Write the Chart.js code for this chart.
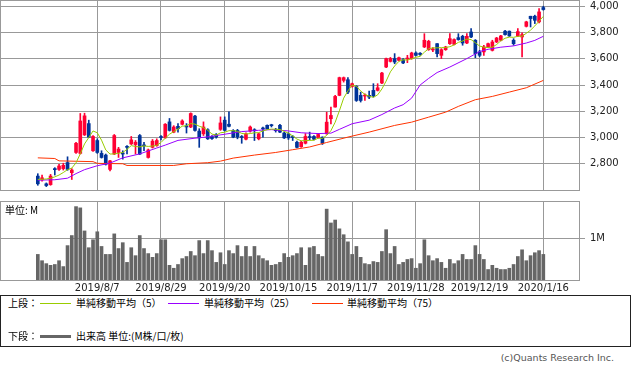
<!DOCTYPE html>
<html>
<head>
<meta charset="utf-8">
<script src="https://cdn.jsdelivr.net/npm/chart.js@4.4.1/dist/chart.umd.min.js"></script>
<style>
  body { margin: 0; background: #fff; }
  #wrap { position: relative; width: 633px; height: 370px; overflow: hidden; }
  canvas { position: absolute; left: 0; }
  #price { top: 0; }
  #volume { top: 195px; }
  .txt { position: absolute; font-size: 10px; line-height: 12px; white-space: nowrap; color: #000;
         font-family: "Noto Sans CJK JP", "DejaVu Sans", sans-serif; }
  #legend { position: absolute; left: 0; top: 295px; width: 629px; height: 50px; border: 1px solid #222; }
  .sw { position: absolute; width: 31px; height: 1px; }
  #copy { position: absolute; right: 19px; top: 352px; font: 9.5px "DejaVu Sans", sans-serif; color: #555; }
</style>
</head>
<body>
<div id="wrap">
  <canvas id="price" width="633" height="191"></canvas>
  <canvas id="volume" width="633" height="100"></canvas>
  <div class="txt" style="left:5px; top:204px;">単位: M</div>
  <div id="legend">
    <div class="txt" style="left:7px; top:1px;">上段：</div>
    <div class="sw" style="left:39px; top:7px; background:#99cc00;"></div>
    <div class="txt" style="left:75px; top:1px;">単純移動平均（5）</div>
    <div class="sw" style="left:167px; top:7px; background:#9900ff;"></div>
    <div class="txt" style="left:203px; top:1px;">単純移動平均（25）</div>
    <div class="sw" style="left:311px; top:7px; background:#ff3300;"></div>
    <div class="txt" style="left:346px; top:1px;">単純移動平均（75）</div>
    <div class="txt" style="left:7px; top:34px;">下段：</div>
    <div class="sw" style="left:39px; top:39px; height:3px; background:#666;"></div>
    <div class="txt" style="left:75px; top:34px;">出来高 単位:(M株/口/枚)</div>
  </div>
  <div id="copy">(c)Quants Research Inc.</div>
</div>
<script>
const dates = [
  '2019/7/18','2019/7/19','2019/7/22','2019/7/23','2019/7/24','2019/7/25','2019/7/26','2019/7/29','2019/7/30','2019/7/31',
  '2019/8/1','2019/8/2','2019/8/5','2019/8/6','2019/8/7','2019/8/8','2019/8/9','2019/8/13','2019/8/14','2019/8/15',
  '2019/8/16','2019/8/19','2019/8/20','2019/8/21','2019/8/22','2019/8/23','2019/8/26','2019/8/27','2019/8/28','2019/8/29',
  '2019/8/30','2019/9/2','2019/9/3','2019/9/4','2019/9/5','2019/9/6','2019/9/9','2019/9/10','2019/9/11','2019/9/12',
  '2019/9/13','2019/9/17','2019/9/18','2019/9/19','2019/9/20','2019/9/24','2019/9/25','2019/9/26','2019/9/27','2019/9/30',
  '2019/10/1','2019/10/2','2019/10/3','2019/10/4','2019/10/7','2019/10/8','2019/10/9','2019/10/10','2019/10/11','2019/10/15',
  '2019/10/16','2019/10/17','2019/10/18','2019/10/21','2019/10/23','2019/10/24','2019/10/25','2019/10/28','2019/10/29','2019/10/30',
  '2019/10/31','2019/11/1','2019/11/5','2019/11/6','2019/11/7','2019/11/8','2019/11/11','2019/11/12','2019/11/13','2019/11/14',
  '2019/11/15','2019/11/18','2019/11/19','2019/11/20','2019/11/21','2019/11/22','2019/11/25','2019/11/26','2019/11/27','2019/11/28',
  '2019/11/29','2019/12/2','2019/12/3','2019/12/4','2019/12/5','2019/12/6','2019/12/9','2019/12/10','2019/12/11','2019/12/12',
  '2019/12/13','2019/12/16','2019/12/17','2019/12/18','2019/12/19','2019/12/20','2019/12/23','2019/12/24','2019/12/25','2019/12/26',
  '2019/12/27','2019/12/30','2020/1/6','2020/1/7','2020/1/8','2020/1/9','2020/1/10','2020/1/14','2020/1/15','2020/1/16'
];
const tickDates = ['2019/8/7','2019/8/29','2019/9/20','2019/10/15','2019/11/7','2019/11/28','2019/12/19','2020/1/16'];

const open = [2706,2677,2647,2641,2763,2757,2763,2809,2732,2886,
  2879,3020,3106,2899,2977,2879,2866,2757,2874,2886,
  2882,2930,2951,2946,3015,2941,2848,2925,2938,3005,
  2997,3119,3041,3085,3101,3088,3080,3163,3049,3028,
  3059,3008,3023,3062,3132,3101,3054,3054,3008,2987,
  3049,3059,2990,3070,3093,3096,3057,3093,3034,3028,
  3005,2964,2930,2956,3005,3008,3000,3003,3028,3143,
  3232,3321,3435,3440,3389,3389,3321,3316,3321,3359,
  3359,3415,3537,3580,3601,3588,3593,3598,3601,3644,
  3642,3690,3669,3667,3715,3626,3669,3715,3710,3761,
  3771,3720,3804,3741,3652,3652,3690,3664,3728,3741,
  3810,3810,3741,3774,3766,3847,3924,3924,3881,3990];
const high = [2724,2714,2654,2719,2770,2796,2804,2853,2763,2964,
  3183,3185,3132,3015,2990,2899,2874,2827,3023,2925,
  2899,2938,3008,2977,3023,2964,2912,2985,2990,3015,
  3106,3145,3090,3106,3135,3106,3188,3168,3067,3119,
  3067,3015,3030,3157,3157,3196,3060,3062,3015,3036,
  3088,3067,3034,3080,3096,3101,3070,3101,3041,3036,
  3015,2972,2972,3030,3041,3015,3030,3005,3193,3232,
  3321,3460,3461,3456,3415,3395,3346,3333,3354,3410,
  3410,3496,3606,3610,3639,3613,3601,3626,3650,3652,
  3647,3791,3741,3685,3715,3677,3695,3791,3751,3791,
  3779,3791,3830,3746,3664,3703,3720,3741,3763,3779,
  3817,3812,3753,3830,3797,3886,3924,3932,3982,4000];
const low = [2636,2667,2626,2636,2714,2750,2752,2750,2680,2879,
  2874,3015,3000,2894,2879,2843,2790,2745,2870,2848,
  2835,2874,2946,2874,2870,2899,2843,2920,2933,2982,
  2995,3049,3036,3041,3096,3034,3075,3049,2925,3015,
  2985,2985,2995,3054,3049,3080,2998,2990,2956,2982,
  3041,2977,2982,3003,3062,3080,3041,3036,2992,2985,
  2977,2920,2925,2951,2982,2982,2995,2947,3025,3104,
  3232,3318,3422,3333,3384,3275,3270,3282,3295,3308,
  3354,3410,3532,3575,3562,3583,3562,3570,3596,3621,
  3626,3685,3664,3654,3613,3601,3664,3710,3705,3741,
  3703,3715,3761,3608,3616,3626,3685,3659,3723,3736,
  3779,3769,3703,3769,3613,3842,3842,3868,3873,3970];
const close = [2647,2693,2634,2706,2755,2783,2788,2757,2752,2956,
  3126,3165,3003,3008,2886,2848,2796,2822,3015,2912,
  2874,2925,2982,2964,2874,2936,2905,2972,2977,3000,
  3101,3054,3080,3067,3126,3080,3183,3054,2997,3080,
  2990,2992,3003,3111,3054,3085,3003,3003,3000,3028,
  3080,3052,3028,3065,3067,3090,3052,3041,2997,2997,
  3000,2925,2964,3008,3000,2987,3023,2957,3117,3168,
  3313,3456,3456,3346,3410,3282,3282,3323,3308,3316,
  3379,3491,3601,3601,3575,3608,3568,3603,3644,3626,
  3632,3741,3733,3672,3639,3669,3690,3753,3746,3746,
  3720,3771,3766,3639,3626,3690,3715,3728,3758,3774,
  3784,3774,3715,3807,3784,3881,3906,3893,3957,3975];

// volume in millions
const volume = [0.61,0.46,0.39,0.35,0.37,0.46,0.32,0.82,1.06,1.75,
  1.72,1.17,0.77,0.96,1.15,0.80,0.61,0.61,1.10,0.75,
  0.89,0.42,0.77,0.58,1.06,0.75,0.63,0.54,0.63,0.96,
  0.96,0.35,0.28,0.37,0.51,0.56,0.68,0.58,0.94,0.63,
  0.94,0.70,0.42,0.65,0.37,0.70,0.63,0.82,0.56,0.80,
  0.56,0.80,0.58,0.51,0.46,0.35,0.37,0.42,0.63,0.54,
  0.58,0.63,0.77,0.35,0.77,0.80,0.61,0.56,1.69,1.36,
  1.43,1.22,1.08,0.91,0.61,0.80,0.54,0.39,0.37,0.44,
  0.42,0.68,1.20,0.63,0.80,0.37,0.42,0.49,0.51,0.28,
  0.39,0.96,0.58,0.46,0.51,0.42,0.28,0.49,0.39,0.46,
  0.61,0.49,0.49,0.82,0.61,0.49,0.25,0.35,0.28,0.25,
  0.25,0.28,0.37,0.56,0.72,0.46,0.58,0.65,0.70,0.61];

const ma5 = [2681,2682,2684,2690,2700,2714,2733,2755,2767,2807,
  2876,2951,3000,3050,3036,2980,2905,2874,2875,2880,
  2886,2910,2938,2932,2928,2936,2932,2935,2940,2962,
  2995,3025,3045,3065,3086,3090,3106,3102,3086,3075,
  3055,3026,3018,3036,3040,3052,3052,3047,3031,3027,
  3030,3036,3037,3050,3060,3064,3063,3061,3047,3033,
  3012,2988,2975,2976,2978,2979,2995,2993,3016,3052,
  3116,3204,3300,3355,3400,3390,3355,3328,3315,3306,
  3325,3370,3430,3500,3545,3580,3592,3590,3600,3611,
  3618,3650,3676,3683,3683,3685,3685,3692,3705,3725,
  3735,3750,3746,3722,3697,3688,3685,3688,3708,3737,
  3756,3765,3763,3771,3772,3794,3818,3850,3886,3923];
const ma25Idx = [0,4,7,9,11,14,17,20,24,28,30,33,37,40,44,48,52,55,59,62,66,69,71,74,78,81,84,86,88,90,92,94,97,101,104,106,109,112,115,117,119];
const ma25 = [2675,2678,2690,2725,2755,2785,2805,2845,2875,2920,2942,2978,2995,3005,3025,3045,3055,3060,3050,3036,3030,3033,3062,3105,3132,3175,3225,3250,3300,3400,3450,3495,3537,3601,3655,3672,3688,3698,3720,3740,3771];
const ma75Idx = [0,4,5,13,14,20,21,32,35,40,43,46,51,56,60,64,68,73,78,84,88,92,96,99,103,107,111,115,119];
const ma75 = [2845,2840,2822,2816,2803,2800,2787,2787,2800,2808,2820,2843,2866,2886,2907,2928,2962,3003,3041,3092,3117,3155,3193,3237,3288,3313,3346,3379,3435];

const priceTicks = [2800, 3000, 3200, 3400, 3600, 3800, 4000];
const volumeTicks = [1];

const RED = '#ff0033', BLUE = '#003399';
const GRID = '#999';
const FONT = { family: '"DejaVu Sans", sans-serif', size: 10 };
const X_MIN = -8.9, X_MAX = 127.4;

const candleColors = close.map((c, i) => c >= open[i] ? RED : BLUE);

// draws the grey box around each plot area
const frame = {
  id: 'frame',
  afterDraw(chart) {
    const a = chart.chartArea, g = chart.ctx;
    g.save();
    g.strokeStyle = GRID;
    g.lineWidth = 1;
    g.strokeRect(a.left + 0.5, a.top - 0.5, a.right - a.left, a.bottom - a.top + 1);
    g.restore();
  }
};

function zeroPad(s) {
  s.paddingTop = 0; s.paddingBottom = 0; s.paddingLeft = 0; s.paddingRight = 0;
}

function dateTicks(s) {
  s.ticks = tickDates.map(d => ({ value: dates.indexOf(d) }));
}

const baseOptions = {
  responsive: false,
  animation: false,
  events: [],
  plugins: { legend: { display: false }, tooltip: { enabled: false } }
};

new Chart(document.getElementById('price'), {
  type: 'bar',
  data: {
    datasets: [
      { type: 'line', data: ma5.map((v, i) => ({ x: i, y: v })), borderColor: '#99cc00', borderWidth: 1, pointRadius: 0, order: 0 },
      { type: 'line', data: ma25.map((v, k) => ({ x: ma25Idx[k], y: v })), borderColor: '#9900ff', borderWidth: 1, pointRadius: 0, order: 0 },
      { type: 'line', data: ma75.map((v, k) => ({ x: ma75Idx[k], y: v })), borderColor: '#ff3300', borderWidth: 1, pointRadius: 0, order: 0 },
      { type: 'bar', data: open.map((o, i) => ({ x: i, y: [o, close[i]] })), backgroundColor: candleColors,
        barThickness: 3, minBarLength: 1, grouped: false, order: 1 },
      { type: 'bar', data: low.map((l, i) => ({ x: i, y: [l, high[i]] })), backgroundColor: candleColors,
        barThickness: 1, grouped: false, order: 2 }
    ]
  },
  options: {
    ...baseOptions,
    layout: { padding: { top: 1, bottom: 1, left: 0, right: 0 } },
    scales: {
      x: {
        type: 'linear', min: X_MIN, max: X_MAX, offset: false,
        grid: { color: GRID, offset: false, drawTicks: false },
        border: { display: false },
        ticks: { display: false },
        afterBuildTicks: dateTicks,
        afterFit: s => { s.height = 0; zeroPad(s); }
      },
      y: {
        position: 'right', min: 2600, max: 4040, beginAtZero: false,
        grid: { color: GRID, tickLength: 6 },
        border: { display: false },
        ticks: { padding: 5, color: '#222', font: FONT, callback: v => v.toLocaleString('en-US') },
        afterBuildTicks: s => { s.ticks = priceTicks.map(v => ({ value: v })); },
        afterFit: s => { s.width = 54; zeroPad(s); }
      }
    }
  },
  plugins: [frame]
});

new Chart(document.getElementById('volume'), {
  type: 'bar',
  data: {
    datasets: [
      { data: volume.map((v, i) => ({ x: i, y: v })), backgroundColor: '#666', barThickness: 3, grouped: false }
    ]
  },
  options: {
    ...baseOptions,
    layout: { padding: { top: 7, bottom: 0, left: 0, right: 0 } },
    scales: {
      x: {
        type: 'linear', min: X_MIN, max: X_MAX, offset: false,
        grid: { color: GRID, offset: false, drawTicks: false },
        border: { display: false },
        ticks: { padding: 2, color: '#222', font: FONT, maxRotation: 0, minRotation: 0, autoSkip: false,
                 callback: v => dates[v] },
        afterBuildTicks: dateTicks,
        afterFit: s => { s.height = 15; zeroPad(s); }
      },
      y: {
        position: 'right', min: 0, max: 1.86,
        grid: { color: GRID, tickLength: 6 },
        border: { display: false },
        ticks: { padding: 5, color: '#222', font: FONT, callback: v => v + 'M' },
        afterBuildTicks: s => { s.ticks = volumeTicks.map(v => ({ value: v })); },
        afterFit: s => { s.width = 54; zeroPad(s); }
      }
    }
  },
  plugins: [frame]
});
</script>
</body>
</html>
